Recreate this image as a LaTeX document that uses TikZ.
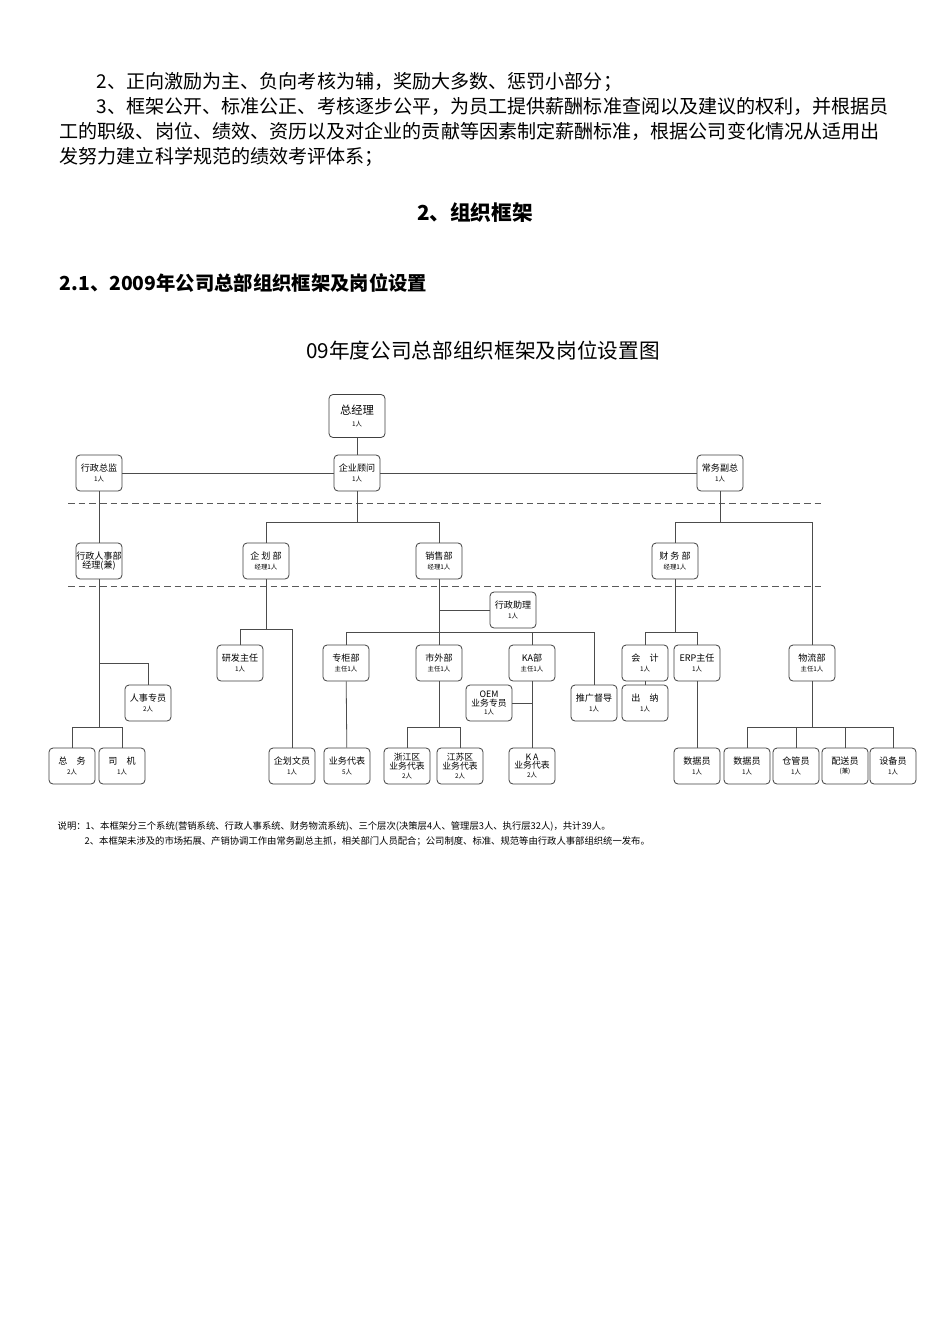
\documentclass[tikz,border=0pt]{standalone}
\usepackage{fontspec}
\setmainfont{Noto Sans CJK SC}
\newfontfamily\cjk{Noto Sans CJK SC}
\begin{document}
\begin{tikzpicture}[x=0.75pt,y=-0.75pt,
  bx/.style={draw=black!75,line width=0.6pt,rounded corners=3pt,minimum width=46*0.75pt,minimum height=36*0.75pt,inner sep=0pt,align=center,font=\fontsize{6.8}{8}\selectfont},
  bx3/.style={bx,font=\fontsize{6.6}{6.6}\selectfont},
  bigbx/.style={bx,minimum width=56*0.75pt,minimum height=43*0.75pt,font=\fontsize{8.5}{10}\selectfont},
  ln/.style={draw=black!70,line width=0.6pt},
  dsh/.style={draw=black!65,line width=0.6pt,dash pattern=on 5pt off 3pt},
  para/.style={anchor=west,font=\fontsize{14.3}{15}\selectfont}]
\newcommand\sm[1]{\\[-1pt]{\fontsize{4.8}{5.5}\selectfont #1}}
\newcommand\tn[1]{\\{\fontsize{4.8}{4.8}\selectfont #1}}
\useasboundingbox (0,0) rectangle (950,1344);
\fill[white] (0,0) rectangle (950,1344);
% text
\node[para] (p1) at (92,82) {2、正向激励为主、负向考核为辅，奖励大多数、惩罚小部分；};
\node[para] (p2) at (92,106) {3、框架公开、标准公正、考核逐步公平，为员工提供薪酬标准查阅以及建议的权利，并根据员};
\node[para] (p3) at (55,131) {工的职级、岗位、绩效、资历以及对企业的贡献等因素制定薪酬标准，根据公司变化情况从适用出};
\node[para] (p4) at (55,157) {发努力建立科学规范的绩效考评体系；};
\node[font=\fontsize{15.5}{17}\bfseries\selectfont] (h1) at (475,213) {2、组织框架};
\node[anchor=west,font=\fontsize{14.5}{16}\bfseries\selectfont] (h2) at (55,283) {2.1、2009年公司总部组织框架及岗位设置};
\node[font=\fontsize{15.5}{17}\selectfont] (ct) at (483,351) {09年度公司总部组织框架及岗位设置图};
% level 1
\node[bigbx] (zjl) at (357,416) {总经理\sm{1人}};
\node[bx] (xzzj) at (99,473) {行政总监\sm{1人}};
\node[bx] (qygw) at (357,473) {企业顾问\sm{1人}};
\node[bx] (cwfz) at (720,473) {常务副总\sm{1人}};
\draw[dsh] (68,503) -- (822,503);
\draw[dsh] (68,586) -- (822,586);
% level 2
\node[bx] (xzrs) at (99,561) {行政人事部\\[-1pt]经理(兼)};
\node[bx] (qhb) at (266,561) {企 划 部\sm{经理1人}};
\node[bx] (xsb) at (439,561) {销售部\sm{经理1人}};
\node[bx] (cwb) at (675,561) {财 务 部\sm{经理1人}};
\node[bx] (xzzl) at (513,610) {行政助理\sm{1人}};
% level 3
\node[bx] (yfzr) at (240,663) {研发主任\sm{1人}};
\node[bx] (zgb) at (346,663) {专柜部\sm{主任1人}};
\node[bx] (swb) at (439,663) {市外部\sm{主任1人}};
\node[bx] (kab) at (532,663) {KA部\sm{主任1人}};
\node[bx] (tgdd) at (594,703) {推广督导\sm{1人}};
\node[bx3] (oem) at (489,703) {OEM\\业务专员\tn{1人}};
\node[bx] (kj) at (645,663) {会\quad 计\sm{1人}};
\node[bx] (cn) at (645,703) {出\quad 纳\sm{1人}};
\node[bx] (erp) at (697,663) {ERP主任\sm{1人}};
\node[bx] (wlb) at (812,663) {物流部\sm{主任1人}};
\node[bx] (rszy) at (148,703) {人事专员\sm{2人}};
% bottom
\node[bx] (zw) at (72,766) {总\quad 务\sm{2人}};
\node[bx] (sj) at (122,766) {司\quad 机\sm{1人}};
\node[bx] (qhwy) at (292,766) {企划文员\sm{1人}};
\node[bx] (ywdb) at (347,766) {业务代表\sm{5人}};
\node[bx3] (zjq) at (407,766) {浙江区\\业务代表\tn{2人}};
\node[bx3] (jsq) at (460,766) {江苏区\\业务代表\tn{2人}};
\node[bx3] (kadb) at (532,766) {K A\\业务代表\tn{2人}};
\node[bx] (sjy1) at (697,766) {数据员\sm{1人}};
\node[bx] (sjy2) at (747,766) {数据员\sm{1人}};
\node[bx] (cgy) at (796,766) {仓管员\sm{1人}};
\node[bx] (psy) at (845,766) {配送员\sm{(兼)}};
\node[bx] (sby) at (893,766) {设备员\sm{1人}};
% connectors
\draw[ln] (zjl) -- (qygw);
\draw[ln] (xzzj) -- (qygw) -- (cwfz);
\draw[ln] (xzzj) -- (xzrs);
\draw[ln] (qygw.south) -- (357,522);
\draw[ln] (qhb.north) -- (266,522) -- (439,522) -- (xsb.north);
\draw[ln] (cwfz.south) -- (720,522);
\draw[ln] (cwb.north) -- (675,522) -- (812,522) -- (wlb.north);
\draw[ln] (xsb.south) -- (swb.north);
\draw[ln] (439,610) -- (xzzl.west);
\draw[ln] (zgb.north) -- (346,632) -- (594,632) -- (tgdd.north);
\draw[ln] (kab.north) -- (532,632);
\draw[ln] (qhb.south) -- (266,629);
\draw[ln] (yfzr.north) -- (240,629) -- (292,629) -- (qhwy.north);
\draw[ln] (xzrs.south) -- (99,727);
\draw[ln] (99,663) -- (148,663) -- (rszy.north);
\draw[ln] (zw.north) -- (72,727) -- (122,727) -- (sj.north);
\draw[ln] (zgb) -- (ywdb);
\draw[ln] (swb.south) -- (439,727);
\draw[ln] (zjq.north) -- (407,727) -- (460,727) -- (jsq.north);
\draw[ln] (kab) -- (kadb);
\draw[ln] (oem.east) -- (532,703);
\draw[ln] (cwb.south) -- (675,632);
\draw[ln] (kj.north) -- (645,632) -- (697,632) -- (erp.north);
\draw[ln] (kj) -- (cn);
\draw[ln] (erp) -- (sjy1);
\draw[ln] (wlb.south) -- (812,727);
\draw[ln] (sjy2.north) -- (747,727) -- (893,727) -- (sby.north);
\draw[ln] (cgy.north) -- (796,727);
\draw[ln] (psy.north) -- (845,727);
% notes
\node[anchor=west,font=\fontsize{7}{8}\selectfont] (n1) at (53,826) {说明：1、本框架分三个系统(营销系统、行政人事系统、财务物流系统)、三个层次(决策层4人、管理层3人、执行层32人)，共计39人。};
\node[anchor=west,font=\fontsize{7}{8}\selectfont] (n2) at (80,841) {2、本框架未涉及的市场拓展、产销协调工作由常务副总主抓，相关部门人员配合；公司制度、标准、规范等由行政人事部组织统一发布。};
\end{tikzpicture}
\end{document}
